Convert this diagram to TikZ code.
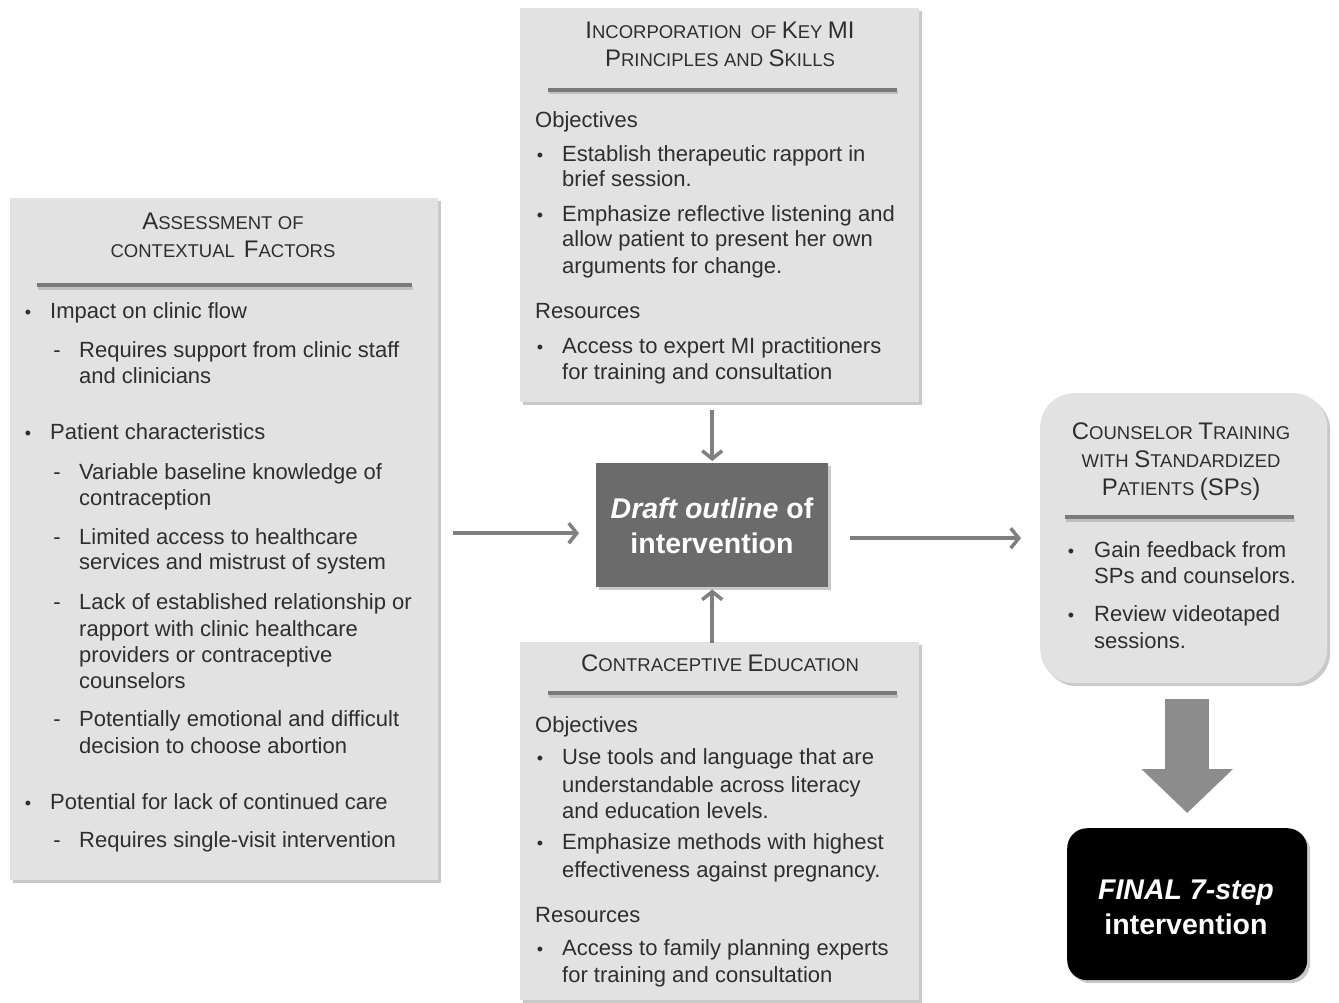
\documentclass[tikz,border=0pt]{standalone}
\usepackage{fontspec}
\setmainfont{Liberation Sans}
\usetikzlibrary{arrows.meta,shadows}
\definecolor{txtc}{HTML}{2E2E2E}
\definecolor{boxc}{HTML}{E2E2E2}
\definecolor{rulec}{HTML}{7A7A7A}
\definecolor{arrc}{HTML}{808080}
\definecolor{bigarrc}{HTML}{8C8C8C}
\definecolor{draftc}{HTML}{6B6B6B}
\newcommand\hs[2]{{\fontsize{24}{28}\selectfont #1}{\fontsize{18.5}{28}\selectfont #2}}
\newcommand\Ln[4]{\node[txt] (#1) at (#2,#3) {#4};}
\newcommand\Bu[3]{\node[bul] (#1) at (#2,#3) {•};}
\newcommand\Da[3]{\node[dsh] (#1) at (#2,#3) {-};}
\newcommand\Hd[4]{\node[hdr] (#1) at (#2,#3) {#4};}
\begin{document}
\begin{tikzpicture}[x=1pt,y=-1pt,
  txt/.style={anchor=base west, inner sep=0pt, text=txtc, font=\fontsize{22}{26.5}\selectfont},
  bul/.style={anchor=base, inner sep=0pt, text=txtc, font=\fontsize{18}{20}\selectfont},
  dsh/.style={anchor=base, inner sep=0pt, text=txtc, font=\fontsize{22}{26.5}\selectfont},
  hdr/.style={anchor=base, inner sep=0pt, text=txtc, font=\fontsize{19.5}{28}\selectfont},
  gbox/.style={anchor=north west, fill=boxc, inner sep=0pt,
    drop shadow={shadow xshift=3pt, shadow yshift=-3pt, opacity=0.3, fill=black!70}},
  hrule/.style={draw=rulec, line width=4.5pt},
  hshadow/.style={draw=black, opacity=0.15, line width=3pt},
  arr/.style={draw=arrc, line width=3.5pt, -{Straight Barb[length=8pt,width=20pt]}},
  bigarr/.style={draw=bigarrc, line width=44pt, -{Triangle[length=44pt,width=89pt]}},
]
\useasboundingbox (0,0) rectangle (1339,1003);

% ---------- boxes ----------
\node[gbox, minimum width=428pt, minimum height=682pt] (lb) at (10,198) {};
\node[gbox, minimum width=399pt, minimum height=394pt] (tb) at (520,8) {};
\node[gbox, minimum width=399pt, minimum height=358pt] (bb) at (520,642) {};
\node[gbox, rounded corners=34pt, minimum width=287pt, minimum height=290pt] (cb) at (1040,393) {};
\node[anchor=north west, fill=draftc, inner sep=0pt, minimum width=232pt, minimum height=124pt,
  drop shadow={shadow xshift=3pt, shadow yshift=-3pt, opacity=0.3, fill=black!70}] (draft) at (596,463) {};
\node[anchor=north west, fill=black, rounded corners=20pt, inner sep=0pt, minimum width=240pt, minimum height=152pt,
  drop shadow={shadow xshift=3pt, shadow yshift=-3pt, opacity=0.3, fill=black!70}] (fin) at (1067,828) {};

% ---------- header rules ----------
\draw[hshadow] (38,288) -- (413,288);
\draw[hrule] (37,285) -- (412,285);
\draw[hshadow] (549,93) -- (898,93);
\draw[hrule] (548,90) -- (897,90);
\draw[hshadow] (549,696) -- (898,696);
\draw[hrule] (548,693) -- (897,693);
\draw[hshadow] (1066,520) -- (1295,520);
\draw[hrule] (1065,517) -- (1294,517);

% ---------- left box ----------
\Hd{lh1}{223}{230}{\hs{A}{SSESSMENT} \hs{}{OF}}
\Hd{lh2}{223}{258}{\hs{}{CONTEXTUAL}\hspace{9pt}\hs{F}{ACTORS}}
\Bu{lb1}{28}{318}\Ln{lt1}{50}{318}{Impact on clinic flow}
\Da{ld1}{57}{357}\Ln{lt2}{79}{357}{Requires support from clinic staff}
\Ln{lt3}{79}{383}{and clinicians}
\Bu{lb2}{28}{439}\Ln{lt4}{50}{439}{Patient characteristics}
\Da{ld2}{57}{479}\Ln{lt5}{79}{479}{Variable baseline knowledge of}
\Ln{lt6}{79}{505}{contraception}
\Da{ld3}{57}{544}\Ln{lt7}{79}{544}{Limited access to healthcare}
\Ln{lt8}{79}{569}{services and mistrust of system}
\Da{ld4}{57}{609}\Ln{lt9}{79}{609}{Lack of established relationship or}
\Ln{lt10}{79}{636}{rapport with clinic healthcare}
\Ln{lt11}{79}{662}{providers or contraceptive}
\Ln{lt12}{79}{688}{counselors}
\Da{ld5}{57}{726}\Ln{lt13}{79}{726}{Potentially emotional and difficult}
\Ln{lt14}{79}{753}{decision to choose abortion}
\Bu{lb3}{28}{809}\Ln{lt15}{50}{809}{Potential for lack of continued care}
\Da{ld6}{57}{847}\Ln{lt16}{79}{847}{Requires single-visit intervention}

% ---------- top box ----------
\Hd{th1}{720}{39}{\hs{I}{NCORPORATION}\hspace{9pt}\hs{}{OF} \hs{K}{EY} \hs{MI}{}}
\Hd{th2}{720}{67}{\hs{P}{RINCIPLES} \hs{}{AND} \hs{S}{KILLS}}
\Ln{tt0}{535}{128}{Objectives}
\Bu{tb1}{540}{162}\Ln{tt1}{562}{162}{Establish therapeutic rapport in}
\Ln{tt2}{562}{187}{brief session.}
\Bu{tb2}{540}{222}\Ln{tt3}{562}{222}{Emphasize reflective listening and}
\Ln{tt4}{562}{247}{allow patient to present her own}
\Ln{tt5}{562}{273}{arguments for change.}
\Ln{tt6}{535}{318}{Resources}
\Bu{tb3}{540}{353}\Ln{tt7}{562}{353}{Access to expert MI practitioners}
\Ln{tt8}{562}{379}{for training and consultation}

% ---------- bottom box ----------
\Hd{bh1}{720}{671}{\hs{C}{ONTRACEPTIVE} \hs{E}{DUCATION}}
\Ln{bt0}{535}{732}{Objectives}
\Bu{bb1}{540}{764}\Ln{bt1}{562}{764}{Use tools and language that are}
\Ln{bt2}{562}{792}{understandable across literacy}
\Ln{bt3}{562}{818}{and education levels.}
\Bu{bb2}{540}{849}\Ln{bt4}{562}{849}{Emphasize methods with highest}
\Ln{bt5}{562}{877}{effectiveness against pregnancy.}
\Ln{bt6}{535}{922}{Resources}
\Bu{bb3}{540}{955}\Ln{bt7}{562}{955}{Access to family planning experts}
\Ln{bt8}{562}{982}{for training and consultation}

% ---------- right box ----------
\Hd{ch1}{1181}{439}{\hs{C}{OUNSELOR} \hs{T}{RAINING}}
\Hd{ch2}{1181}{467}{\hs{}{WITH} \hs{S}{TANDARDIZED}}
\Hd{ch3}{1181}{495}{\hs{P}{ATIENTS} \hs{(SP}{S}\hs{)}{}}
\Bu{cb1}{1071}{557}\Ln{ct1}{1094}{557}{Gain feedback from}
\Ln{ct2}{1094}{583}{SPs and counselors.}
\Bu{cb2}{1071}{621}\Ln{ct3}{1094}{621}{Review videotaped}
\Ln{ct4}{1094}{648}{sessions.}

% ---------- draft / final texts ----------
\node[anchor=base, inner sep=0pt, text=white, font=\bfseries\fontsize{28.5}{34}\selectfont] (dt1) at (712,518) {\textit{Draft outline} of};
\node[anchor=base, inner sep=0pt, text=white, font=\bfseries\fontsize{28.5}{34}\selectfont] (dt2) at (712,553) {intervention};
\node[anchor=base, inner sep=0pt, text=white, font=\bfseries\fontsize{28.5}{34}\selectfont] (ft1) at (1186,899) {\textit{FINAL 7-step}};
\node[anchor=base, inner sep=0pt, text=white, font=\bfseries\fontsize{28.5}{34}\selectfont] (ft2) at (1186,934) {intervention};

% ---------- connectors ----------
\draw[arr] ([xshift=15pt,yshift=6pt]lb.east) -- ([xshift=-17pt,yshift=-8pt]draft.west);
\draw[arr] ([xshift=22pt,yshift=-13pt]draft.east) -- ([xshift=-19pt]cb.west);
\draw[arr] ([yshift=-8pt]draft.north |- tb.south) -- ([yshift=2pt]draft.north);
\draw[arr] ([yshift=-1pt]draft.south |- bb.north) -- ([yshift=-2pt]draft.south);
\draw[bigarr] ([yshift=-16pt]fin.north |- cb.south) -- ([yshift=15pt]fin.north);
\end{tikzpicture}
\end{document}
